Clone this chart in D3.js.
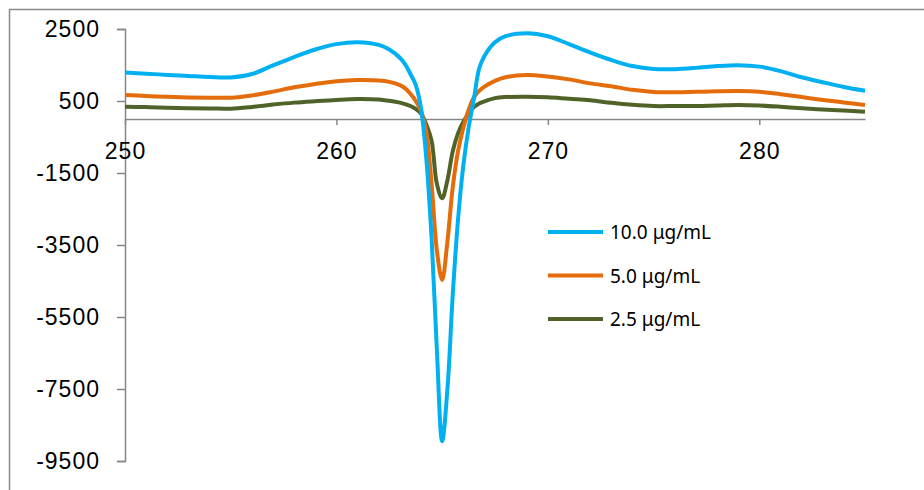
<!DOCTYPE html>
<html>
<head>
<meta charset="utf-8">
<script src="https://cdn.jsdelivr.net/npm/d3@7"></script>
<style>
  body { margin: 0; background: #fff; }
  svg { display: block; }
</style>
</head>
<body>
<div class="chart"></div>
<script>
// wavelength (nm), denser around the dip
const wavelengths = [250, 251, 252, 253, 254, 255, 256, 257, 258, 259, 260, 261, 262, 262.5,
  263, 263.25, 263.5, 263.75, 264, 264.25, 264.5, 264.75, 265, 265.25, 265.5, 265.75,
  266, 266.25, 266.5, 266.75, 267, 267.5, 268, 269, 270, 271, 272, 273, 274, 275,
  276, 277, 278, 279, 280, 281, 282, 283, 284, 285];

const conc10 = [1290, 1260, 1225, 1195, 1165, 1155, 1250, 1490, 1720, 1930, 2080, 2135, 2060, 1930,
  1700, 1520, 1250, 950, 300, -1100, -3300, -6400, -8950, -7500, -4900, -2800,
  -1300, -250, 550, 1400, 1750, 2130, 2300, 2380, 2300, 2080, 1850, 1640, 1470, 1390,
  1385, 1420, 1470, 1495, 1455, 1330, 1160, 1020, 890, 786];

const conc5 = [665, 640, 615, 600, 593, 592, 655, 760, 880, 975, 1050, 1083, 1070, 1030,
  940, 850, 700, 500, 220, -350, -1800, -3650, -4470, -3400, -1900, -900,
  -250, 250, 600, 780, 900, 1060, 1160, 1222, 1180, 1100, 990, 910, 810, 750,
  742, 755, 770, 778, 758, 690, 610, 530, 460, 389];

const conc25 = [342, 330, 315, 300, 292, 288, 335, 400, 455, 495, 530, 553, 540, 505,
  455, 415, 360, 280, 150, -150, -600, -1800, -2200, -1700, -900, -400,
  -80, 150, 330, 430, 490, 580, 610, 619, 603, 560, 520, 450, 395, 360,
  360, 361, 375, 389, 375, 340, 297, 265, 235, 203];

const seriesNames = ['10.0 μg/mL', '5.0 μg/mL', '2.5 μg/mL'];
const seriesColors = ['#00B0F0', '#E46C0A', '#4F6228'];
const seriesValues = [conc10, conc5, conc25];

const xTicks = [250, 260, 270, 280];
const yTicks = [2500, 500, -1500, -3500, -5500, -7500, -9500];

const width = 924;
const height = 490;

const svg = d3.select('.chart')
  .append('svg')
  .attr('width', width)
  .attr('height', height);

// outer frame (runs off the right and bottom edges)
svg.append('rect')
  .attr('x', 9.5)
  .attr('y', 9.5)
  .attr('width', 930)
  .attr('height', 500)
  .attr('fill', 'none')
  .attr('stroke', '#898989')
  .attr('stroke-width', 1.5);

const xScale = d3.scaleLinear()
  .domain([250, 285])
  .range([125, 865]);

const yScale = d3.scaleLinear()
  .domain([-9500, 2500])
  .range([461, 29]);

const axisColor = '#868686';

// Y axis (plain hyphen for negatives, like the original)
const yAxis = svg.append('g')
  .attr('transform', `translate(${xScale(250)}, 0)`)
  .call(d3.axisLeft(yScale).tickValues(yTicks).tickSize(8).tickPadding(17).tickFormat(d => String(d)));
yAxis.select('.domain').attr('stroke', axisColor).attr('stroke-width', 1.5);
yAxis.selectAll('.tick line').attr('stroke', axisColor).attr('stroke-width', 1.5);
yAxis.selectAll('text')
  .attr('fill', '#000')
  .style('font-family', 'Liberation Sans, Arial, sans-serif')
  .style('font-size', '23px')
  .style('letter-spacing', '1px');

// X axis, sitting on zero
const xAxis = svg.append('g')
  .attr('transform', `translate(0, ${yScale(0)})`)
  .call(d3.axisBottom(xScale).tickValues(xTicks).tickSize(6).tickSizeOuter(0).tickPadding(18).tickFormat(d => String(d)));
xAxis.select('.domain').attr('stroke', axisColor).attr('stroke-width', 1.5);
xAxis.selectAll('.tick line').attr('stroke', axisColor).attr('stroke-width', 1.5);
xAxis.selectAll('text')
  .attr('fill', '#000')
  .style('font-family', 'Liberation Sans, Arial, sans-serif')
  .style('font-size', '23px')
  .style('letter-spacing', '1px');

const lineGenerator = d3.line()
  .x((d, i) => xScale(wavelengths[i]))
  .y(d => yScale(d))
  .curve(d3.curveCatmullRom.alpha(0.5));

// draw smaller concentrations first so blue sits on top
[2, 1, 0].forEach(k => {
  svg.append('path')
    .attr('fill', 'none')
    .attr('stroke', seriesColors[k])
    .attr('stroke-width', 4)
    .attr('stroke-linejoin', 'round')
    .attr('d', lineGenerator(seriesValues[k]));
});

// legend
const legend = svg.append('g');
seriesNames.forEach((name, i) => {
  const ly = 232 + i * 43.5;
  legend.append('line')
    .attr('x1', 548).attr('x2', 603)
    .attr('y1', ly).attr('y2', ly)
    .attr('stroke', seriesColors[i])
    .attr('stroke-width', 4);
  legend.append('text')
    .attr('x', 610)
    .attr('y', ly + 7)
    .style('font-family', 'Noto Sans, Open Sans, sans-serif')
    .style('font-size', '19px')
    .attr('fill', '#000')
    .text(name);
});
</script>
</body>
</html>
